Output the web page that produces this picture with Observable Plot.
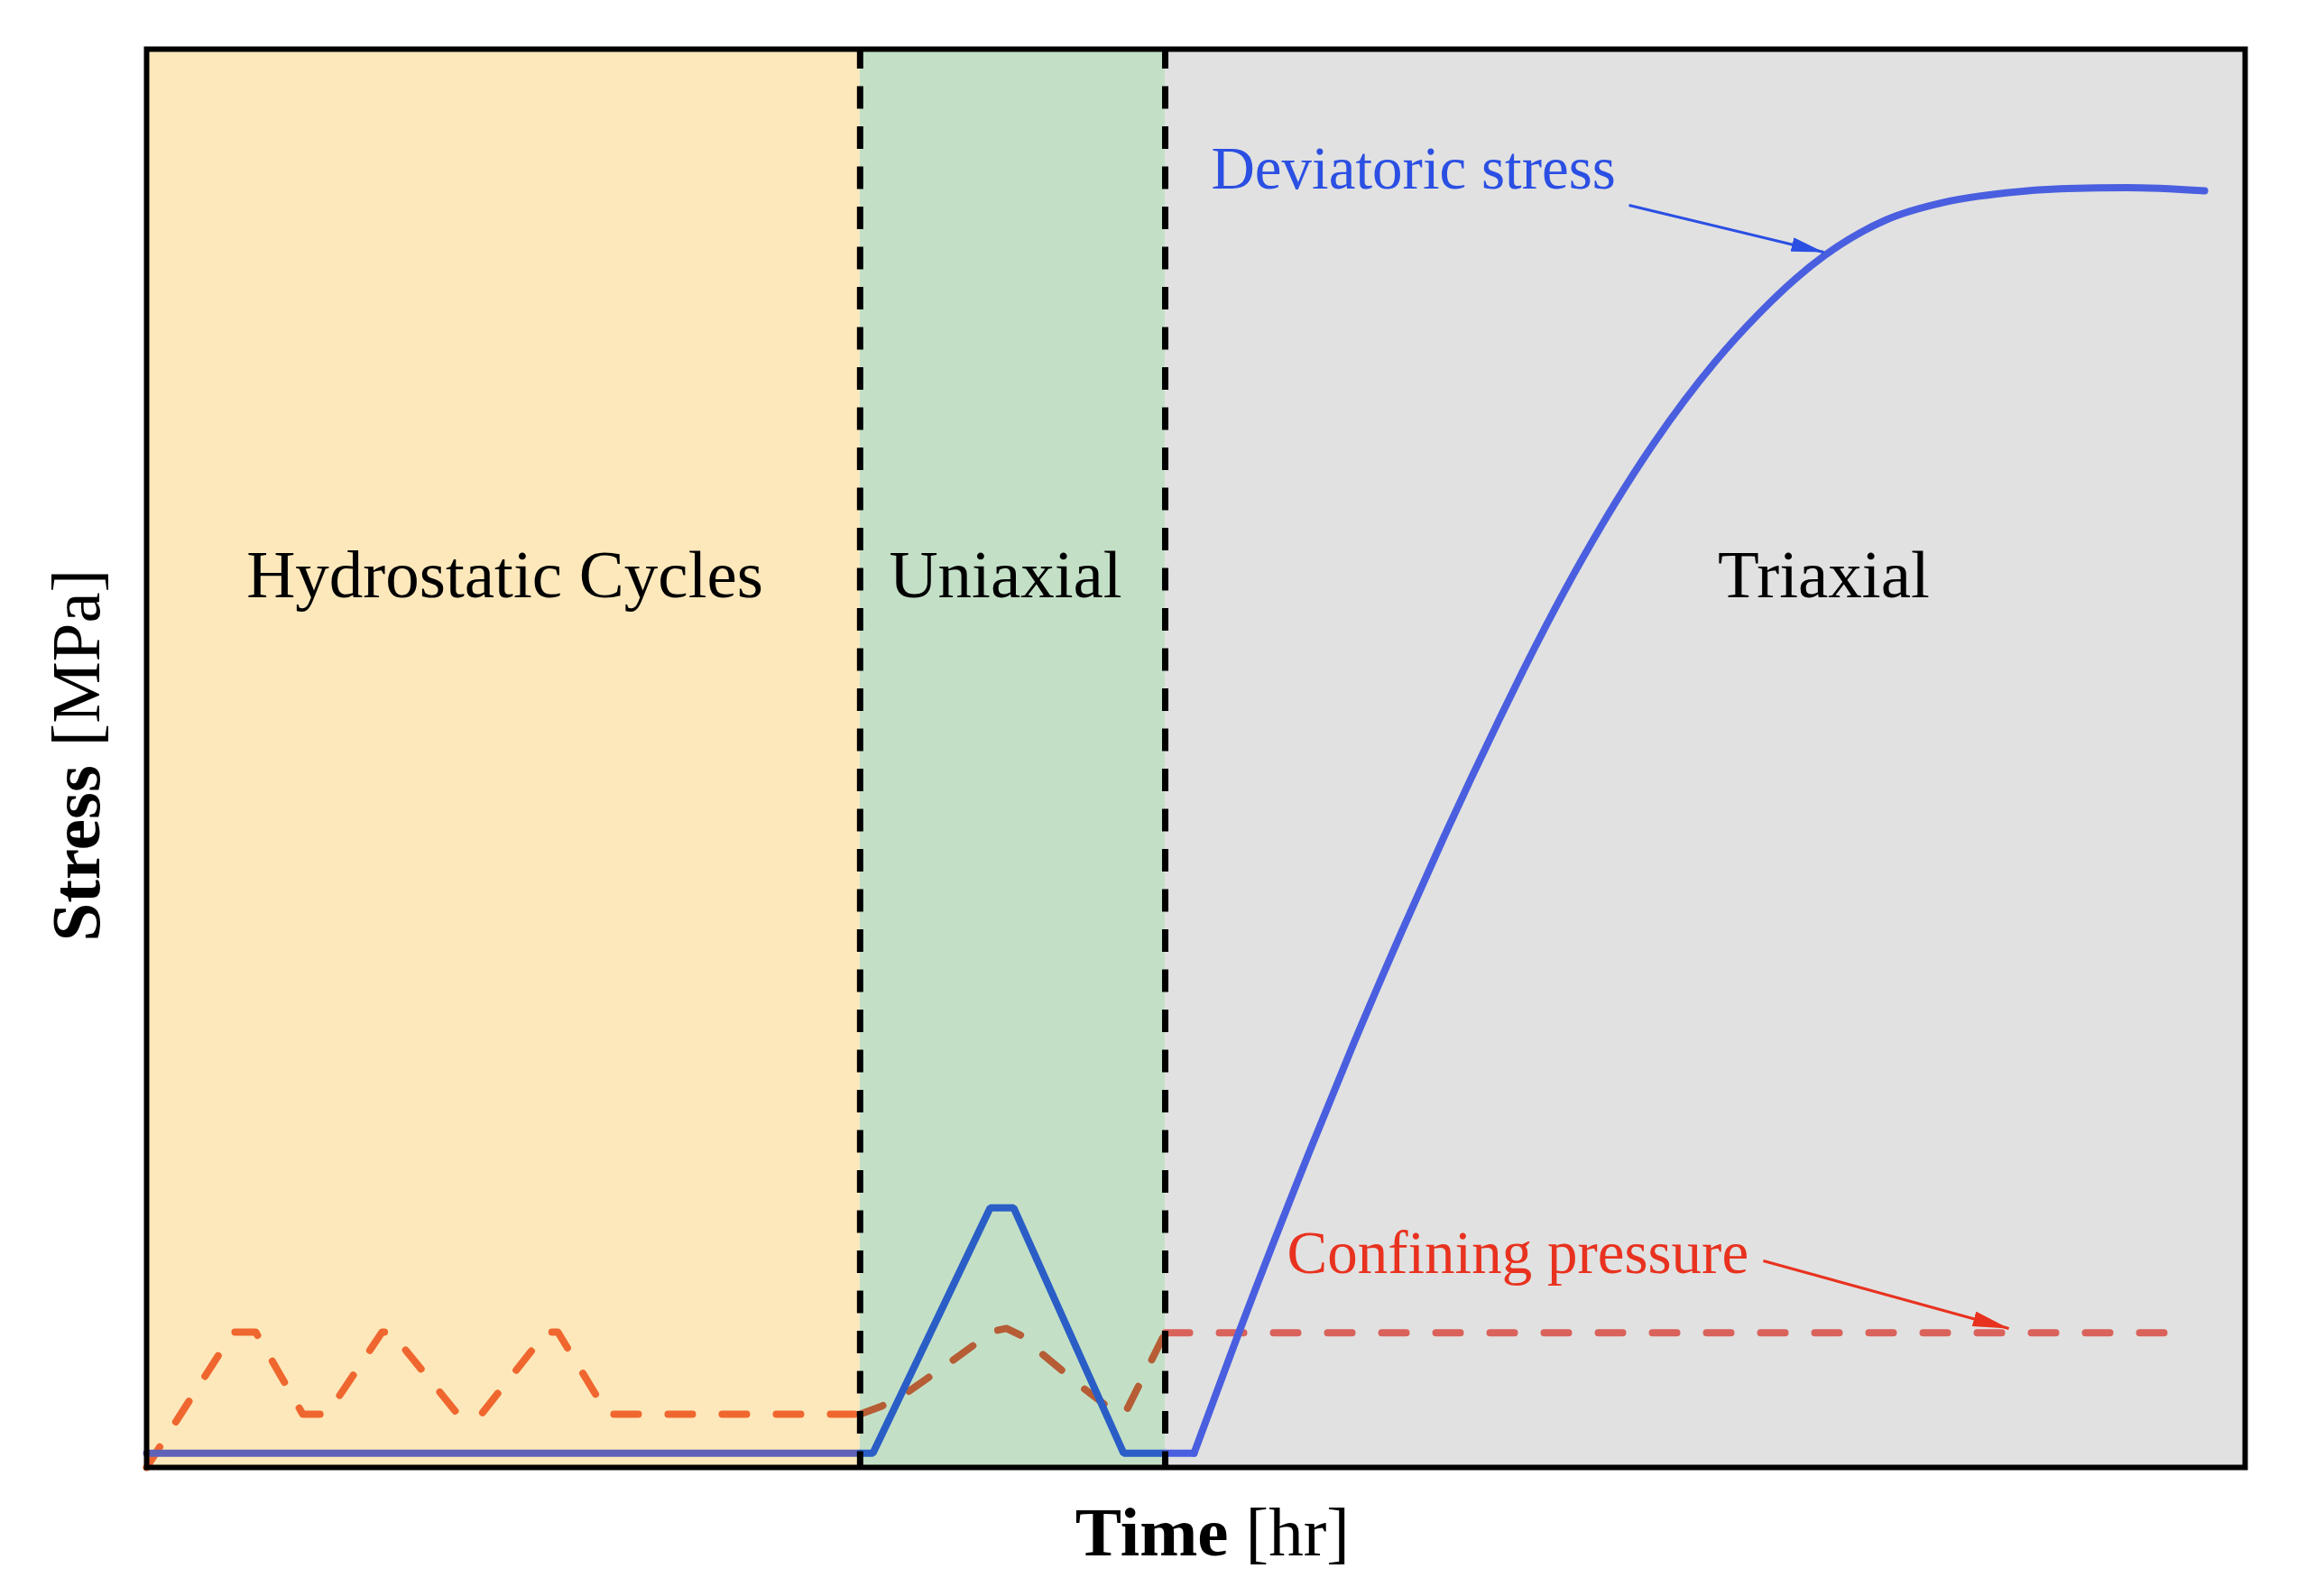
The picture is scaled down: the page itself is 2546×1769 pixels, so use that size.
<!DOCTYPE html>
<html>
<head>
<meta charset="utf-8">
<script src="https://cdn.jsdelivr.net/npm/d3@7"></script>
<script src="https://cdn.jsdelivr.net/npm/@observablehq/plot@0.6"></script>
<style>
  html, body { margin: 0; padding: 0; background: #ffffff; overflow: hidden; }
</style>
</head>
<body>
<script>
// ---------------- DATA ----------------
// Test stages (time axis in arbitrary hours, stress axis in arbitrary MPa units)
const stageNames = ["Hydrostatic Cycles", "Uniaxial", "Triaxial"];
const stageStart = [0, 34.0, 48.54];
const stageEnd = [34.0, 48.54, 100];
const stageFill = ["#fde8bb", "#c3e0c7", "#e1e1e1"];
const stageLabelX = [17.07, 40.93, 79.92];
const stageLabelY = [62.85, 62.85, 62.85];
const stageBoundaries = [34.0, 48.54];

// Deviatoric stress, per stage
const devHydroT = [0, 34.0];
const devHydroS = [1.0, 1.0];
const devUniT = [34.0, 34.61, 40.20, 41.32, 46.56, 48.54];
const devUniS = [1.0, 1.0, 18.3, 18.3, 1.0, 1.0];
const devTriT = [48.54, 49.91, 52.02, 55.37, 57.52, 59.80, 61.82, 64.49, 65.56, 67.54, 69.43, 71.84, 74.72, 76.87, 78.59, 79.97, 82.89, 85.77, 88.61, 91.49, 94.37, 98.07];
const devTriS = [1.0, 1.0, 9.40, 22.11, 29.90, 37.75, 44.45, 52.85, 56.08, 61.73, 66.65, 72.25, 77.91, 81.41, 83.83, 85.46, 87.96, 89.24, 89.87, 90.17, 90.24, 90.02];
const devColors = ["#5f62b7", "#2a5ec6", "#4a5fdf"];

// Confining pressure, per stage
const confHydroT = [0, 4.13, 5.20, 7.44, 8.60, 11.22, 11.65, 14.83, 15.95, 19.05, 19.60, 21.97, 34.0];
const confHydroP = [0, 9.54, 9.54, 3.75, 3.75, 9.54, 9.54, 3.75, 3.75, 9.54, 9.54, 3.75, 3.75];
const confUniT = [34.0, 35.04, 36.11, 38.26, 40.33, 40.97, 41.70, 42.61, 44.63, 45.70, 46.60, 48.54];
const confUniP = [3.75, 4.33, 5.15, 7.38, 9.61, 9.80, 9.29, 8.08, 5.60, 4.39, 3.75, 9.5];
const confTriT = [48.54, 97.12];
const confTriP = [9.5, 9.5];
const confColors = ["#ef672f", "#b65d36", "#d9625b"];

// Annotations
const noteText = ["Deviatoric stress", "Confining pressure"];
const noteX = [50.73, 54.34];
const noteY = [91.56, 15.10];
const noteColor = ["#2b4fe3", "#e8321f"];
const arrowX1 = [70.64, 77.04];
const arrowY1 = [89.0, 14.57];
const arrowX2 = [79.92, 88.74];
const arrowY2 = [85.69, 9.80];
const arrowHeadLen = [36, 40];
const arrowHeadWid = [16, 17];

const xDomain = [0, 100];
const yDomain = [0, 100];

// ---------------- CHART ----------------
const W = 2546, H = 1769;
const serif = '"Liberation Serif", "Times New Roman", Times, serif';
const pts = (xs, ys) => xs.map((x, i) => ({x, y: ys[i]}));
const LW = 8;

const marks = [];

// stage backgrounds
stageNames.forEach((name, i) => {
  marks.push(Plot.rect([{x1: stageStart[i], x2: stageEnd[i], y1: yDomain[0], y2: yDomain[1]}],
    {x1: "x1", x2: "x2", y1: "y1", y2: "y2", fill: stageFill[i]}));
});

// confining pressure (dashed)
const confSeries = [pts(confHydroT, confHydroP), pts(confUniT, confUniP), pts(confTriT, confTriP)];
confSeries.forEach((s, i) => {
  marks.push(Plot.line(s, {x: "x", y: "y", stroke: confColors[i], strokeWidth: LW,
    strokeDasharray: "27,33", strokeLinecap: "round", strokeLinejoin: "round"}));
});

// deviatoric stress
marks.push(Plot.line(pts(devHydroT, devHydroS), {x: "x", y: "y", stroke: devColors[0], strokeWidth: LW}));
marks.push(Plot.line(pts(devUniT, devUniS), {x: "x", y: "y", stroke: devColors[1], strokeWidth: LW, strokeLinejoin: "miter"}));
const tri = pts(devTriT, devTriS);
marks.push(Plot.line(tri.slice(0, 2), {x: "x", y: "y", stroke: devColors[2], strokeWidth: LW}));
marks.push(Plot.line(tri.slice(1), {x: "x", y: "y", stroke: devColors[2], strokeWidth: LW, curve: "monotone-x"}));

// stage boundaries
marks.push(Plot.ruleX(stageBoundaries, {stroke: "black", strokeWidth: 7, strokeDasharray: "25,19.5", strokeDashoffset: 3}));

// stage labels
stageNames.forEach((name, i) => {
  marks.push(Plot.text([{name, x: stageLabelX[i], y: stageLabelY[i]}],
    {x: "x", y: "y", text: "name", fontSize: 75, fontFamily: serif, fill: "black"}));
});

// annotations
noteText.forEach((t, i) => {
  marks.push(Plot.text([{t, x: noteX[i], y: noteY[i]}],
    {x: "x", y: "y", text: "t", textAnchor: "start", fontSize: 67, fontFamily: serif, fill: noteColor[i]}));
});
noteText.forEach((t, i) => {
  marks.push(Plot.link([{x1: arrowX1[i], y1: arrowY1[i], x2: arrowX2[i], y2: arrowY2[i]}],
    {x1: "x1", y1: "y1", x2: "x2", y2: "y2", stroke: noteColor[i], strokeWidth: 3}));
});

// axis labels
marks.push(Plot.text(["Time"], {frameAnchor: "bottom", textAnchor: "end", lineAnchor: "bottom", dx: 36, dy: 97, fontSize: 77, fontWeight: "bold", fontFamily: serif, fill: "black"}));
marks.push(Plot.text(["[hr]"], {frameAnchor: "bottom", textAnchor: "start", lineAnchor: "bottom", dx: 55, dy: 97, fontSize: 77, fontFamily: serif, fill: "black"}));
marks.push(Plot.text(["Stress"], {frameAnchor: "left", rotate: -90, textAnchor: "start", lineAnchor: "middle", dx: -77, dy: 203, fontSize: 77, fontWeight: "bold", fontFamily: serif, fill: "black"}));
marks.push(Plot.text(["[MPa]"], {frameAnchor: "left", rotate: -90, textAnchor: "start", lineAnchor: "middle", dx: -77, dy: -13, fontSize: 77, fontFamily: serif, fill: "black"}));

// frame
marks.push(Plot.frame({stroke: "black", strokeWidth: 6}));

const chart = Plot.plot({
  width: W,
  height: H,
  marginLeft: 162,
  marginRight: 58,
  marginTop: 54,
  marginBottom: 143,
  x: {domain: xDomain, axis: null},
  y: {domain: yDomain, axis: null},
  style: {fontFamily: serif, background: "#ffffff"},
  marks
});
document.body.appendChild(chart);

// filled arrowheads as SVG markers
const svg = d3.select(chart);
const defs = svg.insert("defs", ":first-child");
noteText.forEach((t, i) => {
  const L = arrowHeadLen[i], Wd = arrowHeadWid[i];
  defs.append("marker")
    .attr("id", "ahead" + i)
    .attr("viewBox", `0 0 ${L} ${Wd}`)
    .attr("refX", L).attr("refY", Wd / 2)
    .attr("markerWidth", L).attr("markerHeight", Wd)
    .attr("markerUnits", "userSpaceOnUse")
    .attr("orient", "auto")
    .append("path")
    .attr("d", `M0,0L${L},${Wd / 2}L0,${Wd}Z`)
    .attr("fill", noteColor[i]);
});
svg.selectAll('g[aria-label="link"]').each(function(_, i) {
  d3.select(this).selectAll("path, line").attr("marker-end", `url(#ahead${i})`);
});
</script>
</body>
</html>
